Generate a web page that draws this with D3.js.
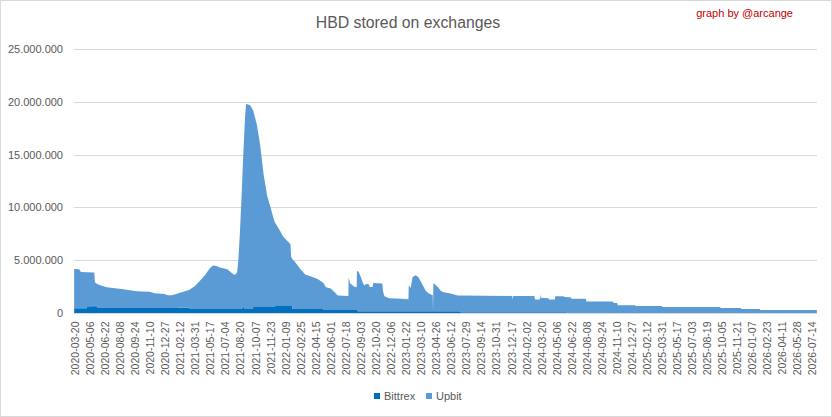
<!DOCTYPE html>
<html>
<head>
<meta charset="utf-8">
<script src="https://cdn.jsdelivr.net/npm/d3@7"></script>
<style>
  body{margin:0;background:#fff;}
  svg{display:block;font-family:"Liberation Sans",Arial,sans-serif;}
</style>
</head>
<body>
<svg id="chart" width="832" height="417"></svg>
<script>
// readings, one row per change of shape
let dates = [
  "2020-03-20","2020-04-05","2020-04-10","2020-04-28","2020-04-29","2020-05-21","2020-05-22","2020-05-24",
  "2020-06-01","2020-06-02","2020-06-12","2020-06-30","2020-07-25","2020-08-16","2020-09-10","2020-10-02",
  "2020-11-10","2020-11-27","2020-12-27","2021-01-07","2021-01-20","2021-02-07","2021-02-13","2021-02-23",
  "2021-03-16","2021-03-17","2021-04-01","2021-04-17","2021-05-03","2021-05-18","2021-05-28","2021-06-08",
  "2021-06-19","2021-07-12","2021-07-27","2021-08-05","2021-08-12","2021-08-16","2021-08-21","2021-08-26",
  "2021-08-31","2021-09-06","2021-09-09","2021-09-21","2021-09-30","2021-10-01","2021-10-13","2021-10-23",
  "2021-11-03","2021-11-14","2021-11-24","2021-12-04","2021-12-08","2021-12-09","2021-12-20","2022-01-04",
  "2022-01-20","2022-01-26","2022-01-28","2022-01-31","2022-02-01","2022-02-10","2022-02-25","2022-03-13",
  "2022-03-29","2022-04-21","2022-05-07","2022-05-09","2022-05-10","2022-05-17","2022-06-01","2022-06-17",
  "2022-06-23","2022-07-26","2022-07-27","2022-08-01","2022-08-15","2022-08-21","2022-08-22","2022-08-25",
  "2022-08-28","2022-09-03","2022-09-09","2022-09-14","2022-09-19","2022-09-28","2022-10-01","2022-10-10",
  "2022-10-12","2022-11-09","2022-11-12","2022-11-16","2022-11-30","2023-01-10","2023-01-30","2023-01-31",
  "2023-02-06","2023-02-12","2023-02-22","2023-03-03","2023-03-16","2023-03-25","2023-04-04","2023-04-16",
  "2023-04-17","2023-04-18","2023-05-02","2023-05-11","2023-05-20","2023-06-11","2023-07-03","2023-07-11",
  "2023-07-12","2023-12-21","2023-12-22","2023-12-24","2024-02-28","2024-03-01","2024-03-16","2024-03-17",
  "2024-03-19","2024-04-12","2024-04-14","2024-05-02","2024-05-04","2024-05-30","2024-06-01","2024-06-10",
  "2024-06-11","2024-06-21","2024-06-23","2024-08-07","2024-08-09","2024-10-31","2024-11-02","2024-11-13",
  "2024-11-15","2025-01-08","2025-01-10","2025-04-02","2025-04-04","2025-10-01","2025-10-03","2025-12-05",
  "2025-12-07","2026-02-02","2026-02-04","2026-07-31"
];
let bittrex = [
  450000,450000,450000,450000,630000,630000,800000,630000,
  630000,470000,470000,470000,470000,470000,470000,470000,
  470000,470000,470000,470000,470000,470000,500000,500000,
  500000,380000,380000,380000,380000,380000,380000,380000,
  380000,380000,380000,380000,380000,380000,380000,380000,
  600000,380000,380000,380000,380000,570000,570000,570000,
  570000,570000,570000,570000,570000,660000,660000,660000,
  660000,660000,660000,660000,380000,380000,380000,380000,
  380000,380000,380000,380000,280000,280000,280000,280000,
  280000,280000,280000,280000,280000,280000,280000,160000,
  160000,160000,160000,160000,160000,160000,160000,160000,
  160000,160000,160000,160000,160000,160000,160000,160000,
  160000,160000,160000,160000,160000,160000,160000,160000,
  160000,160000,160000,160000,160000,160000,160000,160000,
  80000,80000,80000,80000,80000,80000,80000,80000,
  80000,80000,80000,80000,80000,80000,80000,80000,
  0,0,0,0,0,0,0,0,
  0,0,0,0,0,0,0,0,
  0,0,0,0
];
let upbit = [
  3720000,3700000,3430000,3410000,3230000,3210000,3040000,2270000,
  2120000,2250000,2130000,1970000,1880000,1810000,1680000,1580000,
  1550000,1410000,1330000,1210000,1210000,1370000,1420000,1490000,
  1700000,1840000,2150000,2660000,3200000,3830000,4120000,4070000,
  3920000,3760000,3380000,3220000,3480000,4720000,7420000,10720000,
  14300000,18320000,19420000,19320000,18870000,18630000,17230000,15330000,
  12530000,10530000,9480000,8380000,8030000,7890000,7340000,6540000,
  6040000,5840000,4640000,4490000,4720000,4420000,3820000,3260000,
  3090000,2840000,2520000,2470000,2520000,2150000,2030000,1560000,
  1370000,1320000,3080000,2510000,2190000,2190000,3700000,3790000,
  3690000,3240000,2740000,2440000,2590000,2560000,2310000,2310000,
  2690000,2640000,1830000,1420000,1230000,1200000,1140000,2470000,
  2210000,3260000,3420000,3200000,2470000,1940000,1680000,1520000,
  0,2690000,2310000,1940000,1800000,1680000,1490000,1490000,
  1570000,1540000,1190000,1540000,1540000,1190000,1190000,1690000,
  1370000,1320000,1190000,1190000,1500000,1500000,1440000,1440000,
  1500000,1500000,1360000,1360000,1100000,1100000,950000,950000,
  730000,730000,660000,660000,570000,570000,470000,470000,
  380000,380000,280000,280000
];
let seriesNames = ["Bittrex","Upbit"];
let seriesColors = ["#0070c0","#5b9bd5"];
let yTicks = [0,5000000,10000000,15000000,20000000,25000000];
let xTickLabels = [
  "2020-03-20","2020-05-06","2020-06-22","2020-08-08","2020-09-24","2020-11-10","2020-12-27",
  "2021-02-12","2021-03-31","2021-05-17","2021-07-04","2021-08-20","2021-10-07","2021-11-23",
  "2022-01-09","2022-02-25","2022-04-15","2022-06-01","2022-07-18","2022-09-03","2022-10-20",
  "2022-12-06","2023-01-22","2023-03-10","2023-04-26","2023-06-12","2023-07-29","2023-09-14",
  "2023-10-31","2023-12-17","2024-02-02","2024-03-20","2024-05-06","2024-06-22","2024-08-08",
  "2024-09-24","2024-11-10","2024-12-27","2025-02-12","2025-03-31","2025-05-17","2025-07-03",
  "2025-08-19","2025-10-05","2025-11-21","2026-01-07","2026-02-23","2026-04-11","2026-05-28",
  "2026-07-14"
];

let svg = d3.select("#chart");
let textColor = "#595959", gridColor = "#d9d9d9";
let parse = d3.utcParse("%Y-%m-%d");
let rows = dates.map((d,i)=>({date:parse(d),Bittrex:bittrex[i],Upbit:upbit[i]}));
let firstDay = rows[0].date,
    endDay = d3.utcDay.offset(rows[rows.length-1].date,1);

let x = d3.scaleUtc().domain([firstDay,endDay]).range([74,817]);
let half = (x(d3.utcDay.offset(firstDay,1))-x(firstDay))/2;
let y = d3.scaleLinear().domain([0,25000000]).range([313,49]);
let fmt = d3.formatLocale({decimal:",",thousands:".",grouping:[3],currency:["",""]}).format(",");

//chart border
svg.append("rect")
    .attr("x",0.5).attr("y",0.5)
    .attr("width",831).attr("height",416)
    .style("fill","#fff")
    .style("stroke",gridColor);

//grid
svg.append("g").selectAll("line")
    .data(yTicks)
    .enter().append("line")
    .attr("x1",74).attr("x2",817)
    .attr("y1",d=>Math.round(y(d))+0.5)
    .attr("y2",d=>Math.round(y(d))+0.5)
    .style("stroke",gridColor)
    .style("stroke-width",1);

svg.append("g").selectAll("text")
    .data(yTicks)
    .enter().append("text")
    .attr("x",63)
    .attr("y",d=>y(d))
    .attr("dy","0.36em")
    .style("text-anchor","end")
    .style("font-size","11px")
    .style("fill",textColor)
    .text(d=>fmt(d));

//stacked areas
let stacked = d3.stack().keys(seriesNames)(rows);
let area = d3.area()
    .x(d=>x(d.data.date)+half)
    .y0(d=>y(d[0]))
    .y1(d=>y(d[1]));

svg.append("g").selectAll("path")
    .data(stacked)
    .enter().append("path")
    .attr("d",area)
    .style("fill",(d,i)=>seriesColors[i]);

//category labels
svg.append("g").selectAll("text")
    .data(xTickLabels)
    .enter().append("text")
    .attr("transform",d=>"translate("+(x(parse(d))+half+4.5)+",321.5) rotate(-90)")
    .style("text-anchor","end")
    .style("font-size","10.5px")
    .style("fill",textColor)
    .text(d=>d);

//title and credit
svg.append("text")
    .attr("x",408).attr("y",28)
    .style("text-anchor","middle")
    .style("font-size","15.8px")
    .style("fill",textColor)
    .text("HBD stored on exchanges");

svg.append("text")
    .attr("x",793).attr("y",17)
    .style("text-anchor","end")
    .style("font-size","11px")
    .style("fill","#c00000")
    .text("graph by @arcange");

//legend
let legend = svg.append("g").selectAll("g")
    .data(seriesNames)
    .enter().append("g")
    .attr("transform",(d,i)=>"translate("+[374,426][i]+",393)");
legend.append("rect")
    .attr("width",6).attr("height",6)
    .style("fill",(d,i)=>seriesColors[i]);
legend.append("text")
    .attr("x",10).attr("y",7)
    .style("font-size","11px")
    .style("fill",textColor)
    .text(d=>d);
</script>
</body>
</html>
